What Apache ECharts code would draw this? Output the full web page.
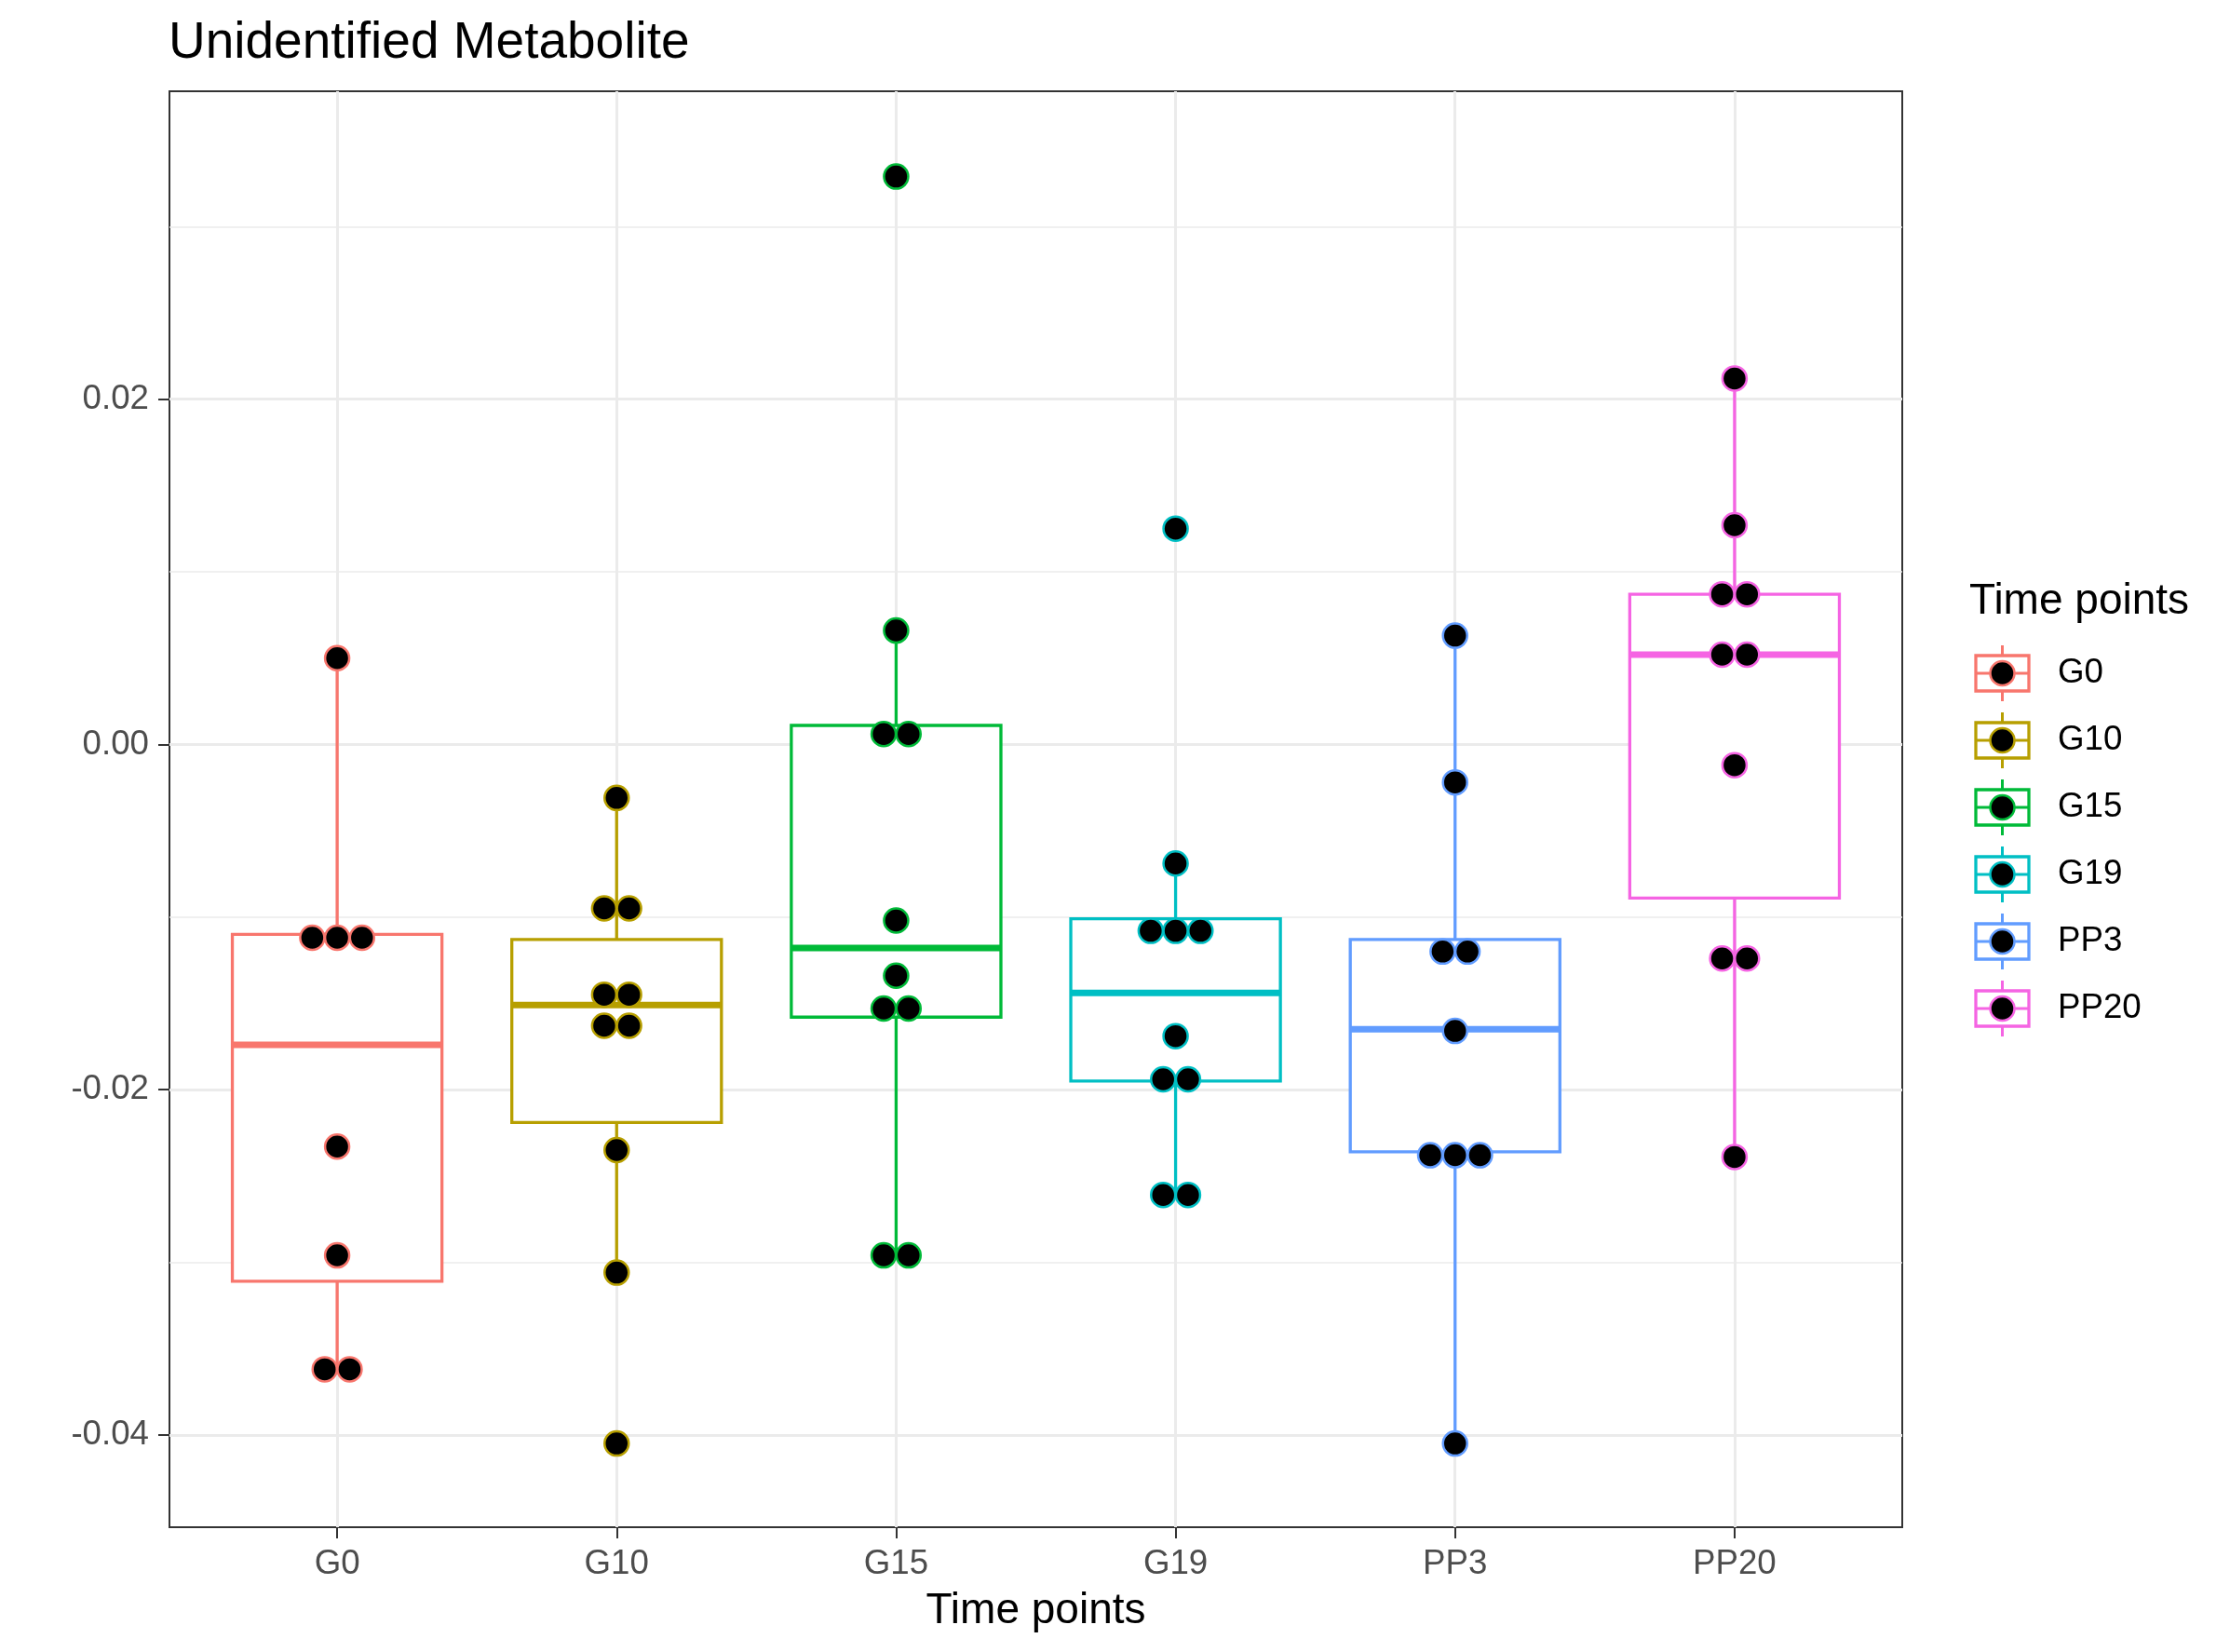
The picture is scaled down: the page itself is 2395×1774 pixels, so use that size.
<!DOCTYPE html>
<html>
<head>
<meta charset="utf-8">
<script src="https://cdn.jsdelivr.net/npm/echarts@6/dist/echarts.min.js"></script>
<style>
  html, body { margin: 0; padding: 0; background: #ffffff; }
  #chart { width: 2395px; height: 1774px; }
</style>
</head>
<body>
<div id="chart"></div>
<script>
// ---------------- data ----------------
const categories = ['G0', 'G10', 'G15', 'G19', 'PP3', 'PP20'];
const groupColors = ['#F8766D', '#B79F00', '#00BA38', '#00BFC4', '#619CFF', '#F564E3'];

// individual observations (dot plot)
const valuesG0   = [0.0050, -0.0112, -0.0112, -0.0112, -0.0233, -0.0296, -0.0362, -0.0362];
const valuesG10  = [-0.0031, -0.0095, -0.0095, -0.0145, -0.0145, -0.0163, -0.0163, -0.0235, -0.0306, -0.0405];
const valuesG15  = [0.0329, 0.0066, 0.0006, 0.0006, -0.0102, -0.0134, -0.0153, -0.0153, -0.0296, -0.0296];
const valuesG19  = [0.0125, -0.0069, -0.0108, -0.0108, -0.0108, -0.0169, -0.0194, -0.0194, -0.0261, -0.0261];
const valuesPP3  = [0.0063, -0.0022, -0.0120, -0.0120, -0.0166, -0.0238, -0.0238, -0.0238, -0.0405];
const valuesPP20 = [0.0212, 0.0127, 0.0087, 0.0087, 0.0052, 0.0052, -0.0012, -0.0124, -0.0124, -0.0239];

// box statistics (whisker low, Q1, median, Q3, whisker high)
const boxLow    = [-0.0362, -0.0306, -0.0296, -0.0261, -0.0405, -0.0239];
const boxQ1     = [-0.0311, -0.0219, -0.0158, -0.0195, -0.0236, -0.0089];
const boxMedian = [-0.0174, -0.0151, -0.0118, -0.0144, -0.0165, 0.0052];
const boxQ3     = [-0.0110, -0.0113, 0.0011, -0.0101, -0.0113, 0.0087];
const boxHigh   = [0.0050, -0.0031, 0.0066, -0.0069, 0.0063, 0.0212];

const yTickValues = [-0.04, -0.02, 0, 0.02];
const xTickValues = [1, 2, 3, 4, 5, 6];

// ---------------- build ----------------
const groupValues = [valuesG0, valuesG10, valuesG15, valuesG19, valuesPP3, valuesPP20];
const FONT = "'Liberation Sans', Arial, Helvetica, sans-serif";
const boxHalf = 0.375;      // half box width in category units
const dotStep = 0.089;      // horizontal stacking step in category units

const boxData = categories.map((c, i) => [i + 1, boxLow[i], boxQ1[i], boxMedian[i], boxQ3[i], boxHigh[i]]);

const dotData = [];
groupValues.forEach((vals, gi) => {
  const counts = {};
  vals.forEach(v => { counts[v] = (counts[v] || 0) + 1; });
  const seen = {};
  vals.forEach(v => {
    const n = counts[v];
    const k = seen[v] || 0;
    seen[v] = k + 1;
    const off = (k - (n - 1) / 2) * dotStep;
    dotData.push({ value: [gi + 1 + off, v], itemStyle: { borderColor: groupColors[gi] } });
  });
});

function renderBox(params, api) {
  const x = api.value(0);
  const lo = api.value(1), q1 = api.value(2), med = api.value(3), q3 = api.value(4), hi = api.value(5);
  const color = groupColors[params.dataIndex];
  const pHi = api.coord([x, hi]);
  const pQ3 = api.coord([x, q3]);
  const pQ1 = api.coord([x, q1]);
  const pLo = api.coord([x, lo]);
  const pTL = api.coord([x - boxHalf, q3]);
  const pBR = api.coord([x + boxHalf, q1]);
  const pML = api.coord([x - boxHalf, med]);
  const pMR = api.coord([x + boxHalf, med]);
  const lw = 3.3;
  return {
    type: 'group',
    children: [
      { type: 'line', shape: { x1: pHi[0], y1: pHi[1], x2: pQ3[0], y2: pQ3[1] },
        style: { stroke: color, lineWidth: lw } },
      { type: 'line', shape: { x1: pQ1[0], y1: pQ1[1], x2: pLo[0], y2: pLo[1] },
        style: { stroke: color, lineWidth: lw } },
      { type: 'rect', shape: { x: pTL[0], y: pTL[1], width: pBR[0] - pTL[0], height: pBR[1] - pTL[1] },
        style: { fill: '#ffffff', stroke: color, lineWidth: lw, lineJoin: 'miter' } },
      { type: 'line', shape: { x1: pML[0], y1: pML[1], x2: pMR[0], y2: pMR[1] },
        style: { stroke: color, lineWidth: 7, lineCap: 'butt' } }
    ]
  };
}

// legend built from categories/colors
const legendX = 2122, legendY0 = 723, legendStep = 72, keyW = 57, keyH = 38;
const legendGraphics = [{
  type: 'text', left: 2115, top: 623,
  style: { text: 'Time points', fontSize: 46, fontFamily: FONT, fill: '#000000' }
}];
categories.forEach((c, i) => {
  const cy = legendY0 + legendStep * i;
  const cx = legendX + keyW / 2;
  const col = groupColors[i];
  legendGraphics.push(
    { type: 'line', shape: { x1: cx, y1: cy - 30, x2: cx, y2: cy + 30 }, style: { stroke: col, lineWidth: 3 } },
    { type: 'rect', shape: { x: legendX, y: cy - keyH / 2, width: keyW, height: keyH },
      style: { fill: '#ffffff', stroke: col, lineWidth: 3.3 } },
    { type: 'line', shape: { x1: legendX, y1: cy, x2: legendX + keyW, y2: cy }, style: { stroke: col, lineWidth: 3 } },
    { type: 'circle', shape: { cx: cx, cy: cy, r: 13 }, style: { fill: '#000000', stroke: col, lineWidth: 2.5 } },
    { type: 'text', x: 2210, y: cy,
      style: { text: c, fontSize: 36.7, fontFamily: FONT, fill: '#000000', verticalAlign: 'middle', align: 'left' } }
  );
});

const chart = echarts.init(document.getElementById('chart'), null, { renderer: 'canvas' });
chart.setOption({
  backgroundColor: '#ffffff',
  animation: false,
  title: {
    text: 'Unidentified Metabolite',
    left: 176, top: 14,
    textStyle: { fontSize: 55, fontWeight: 'normal', color: '#000000', fontFamily: FONT }
  },
  grid: {
    left: 182, right: 352, top: 98, bottom: 134,
    show: true, borderColor: '#333333', borderWidth: 2, backgroundColor: '#ffffff'
  },
  xAxis: {
    type: 'value', min: 0.4, max: 6.6,
    name: 'Time points', nameLocation: 'middle', nameGap: 67,
    nameTextStyle: { fontSize: 46, color: '#000000', fontFamily: FONT },
    axisLine: { show: false, onZero: false },
    axisTick: { show: true, length: 12, lineStyle: { color: '#333333', width: 2 }, customValues: xTickValues },
    axisLabel: {
      fontSize: 36.7, color: '#4d4d4d', fontFamily: FONT, margin: 21,
      customValues: xTickValues,
      formatter: v => (Math.abs(v - Math.round(v)) < 1e-6 && v >= 1 && v <= 6) ? categories[Math.round(v) - 1] : ''
    },
    splitLine: { show: true, lineStyle: { color: '#ebebeb', width: 3 } }
  },
  yAxis: {
    type: 'value', min: -0.04535, max: 0.03784,
    axisLine: { show: false, onZero: false },
    axisTick: { show: true, length: 12, lineStyle: { color: '#333333', width: 2 }, customValues: yTickValues },
    axisLabel: {
      fontSize: 36.7, color: '#4d4d4d', fontFamily: FONT, margin: 22,
      customValues: yTickValues,
      formatter: v => {
        const r = Math.round(v * 100);
        if (Math.abs(v * 100 - r) > 1e-6 || r % 2 !== 0) return '';
        return (r / 100).toFixed(2);
      }
    },
    splitLine: { show: true, lineStyle: { color: '#ebebeb', width: 3 } },
    minorTick: { show: false, splitNumber: 2 },
    minorSplitLine: { show: true, lineStyle: { color: '#ebebeb', width: 1.5 } }
  },
  series: [
    {
      type: 'custom',
      renderItem: renderBox,
      data: boxData,
      encode: { x: 0, y: [1, 2, 3, 4, 5] },
      z: 2,
      silent: true
    },
    {
      type: 'scatter',
      data: dotData,
      symbol: 'circle',
      symbolSize: 26,
      itemStyle: { color: '#000000', borderWidth: 2.5, opacity: 1 },
      z: 3,
      silent: true
    }
  ],
  graphic: legendGraphics
});
</script>
</body>
</html>
